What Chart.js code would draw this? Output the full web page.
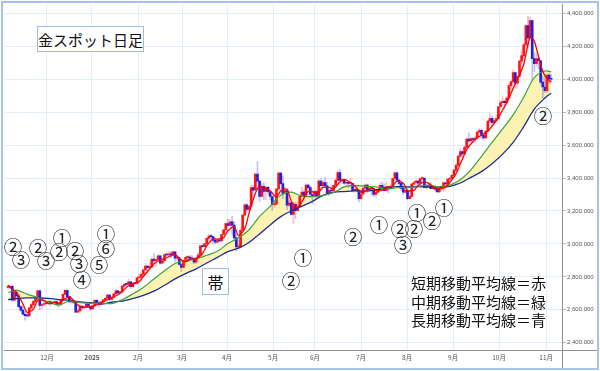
<!DOCTYPE html>
<html lang="ja">
<head>
<meta charset="utf-8">
<title>金スポット日足</title>
<script src="https://cdn.jsdelivr.net/npm/chart.js@4.4.1/dist/chart.umd.min.js"></script>
<style>
  body { margin: 0; background: #fff; }
  #wrap { position: relative; width: 600px; height: 371px; font-family: "Noto Sans CJK JP", sans-serif; color: #111; }
  #wrap canvas { position: absolute; left: 0; top: 0; }
  .box { position: absolute; box-sizing: border-box; border: 1px solid #9dbde6; background: #fff;
         display: flex; align-items: center; justify-content: center; }
  .note { position: absolute; transform: translate(-50%, -50%); font-size: 18.5px; line-height: 1; color: #222; }
  #legend { position: absolute; left: 411px; top: 274px; font-size: 15px; line-height: 18.5px; white-space: nowrap; }
</style>
</head>
<body>
<div id="wrap">
  <canvas id="chart" width="600" height="371"></canvas>
  <div class="box" style="left:37px;top:26px;width:107px;height:26px;font-size:15px;">金スポット日足</div>
  <div class="box" style="left:202px;top:268px;width:27px;height:27px;font-size:16px;">帯</div>
  <div id="legend">短期移動平均線＝赤<br>中期移動平均線＝緑<br>長期移動平均線＝青</div>
</div>
<script>
// Daily candles, one per trading day (index 0 = 2024-11-04)
const firstOpen = 2736;

const closes = [
  // Nov 2024
  2736,2742,2659,2706,2685, 2619,2598,2573,2565,2563, 2612,2631,2651,2670,2715, 2626,2632,2637,2640,2650,
  // Dec
  2640,2643,2650,2632,2633, 2660,2694,2718,2680,2648, 2652,2646,2586,2594,2622, 2612,2617,2634,2621,2606, 2624,
  // Jan 2025
  2658,2640, 2636,2648,2661,2670,2690, 2663,2677,2697,2715,2703, 2708,2744,2755,2754,2770, 2740,2763,2760,2794,2798,
  // Feb
  2815,2842,2866,2856,2861, 2908,2898,2905,2928,2883, 2898,2935,2933,2939,2936, 2952,2914,2916,2875,2857,
  // Mar
  2893,2918,2920,2911,2910, 2889,2916,2934,2988,2984, 3001,3034,3047,3044,3022, 3011,3020,3019,3057,3085, 3124,
  // Apr
  3113,3134,3114,3037, 2982,2982,3083,3175,3237, 3210,3229,3342,3327, 3424,3381,3288,3349,3319, 3344,3317,3288,
  // May
  3239,3241, 3334,3430,3366,3306,3324, 3235,3249,3179,3240,3202, 3230,3289,3315,3294,3357, 3342,3300,3288,3318,3289,
  // Jun
  3381,3353,3373,3352,3310, 3326,3322,3355,3386,3433, 3385,3389,3369,3369,3368, 3368,3323,3332,3327,3274, 3303,
  // Jul
  3338,3357,3326,3337, 3336,3301,3313,3324,3355, 3343,3324,3348,3339,3350, 3397,3432,3387,3368,3337, 3314,3326,3275,3289,
  // Aug
  3363, 3373,3381,3369,3396,3398, 3342,3348,3356,3336,3336, 3332,3316,3348,3339,3371, 3365,3393,3397,3416,3448,
  // Sep
  3477,3533,3560,3546,3586, 3636,3626,3640,3634,3643, 3679,3690,3660,3643,3685, 3746,3763,3736,3749,3760, 3833,3858,
  // Oct
  3866,3857,3886, 3961,3985,4040,3976,4018, 4110,4143,4208,4326,4251, 4356,4125,4095,4126,4112, 3982,3953,3930,4025,4002,
  // Nov
  4000
];

const highs = [
  2750,2750,2750,2711,2709, 2688,2626,2620,2590,2577, 2614,2639,2656,2675,2721, 2721,2637,2650,2648,2666,
  2656,2652,2657,2655,2644, 2667,2698,2726,2721,2682, 2656,2656,2650,2605,2628, 2625,2620,2638,2636,2623, 2630,
  2663,2665, 2650,2655,2664,2675,2697, 2692,2680,2700,2725,2718, 2711,2749,2763,2759,2786, 2772,2766,2769,2799,2817,
  2830,2845,2882,2870,2886, 2911,2942,2910,2935,2933, 2904,2938,2947,2955,2954, 2956,2952,2927,2920,2883,
  2896,2928,2930,2929,2930, 2916,2922,2947,2991,3005, 3005,3038,3057,3058,3047, 3035,3029,3033,3060,3087, 3128,
  3149,3150,3167,3136, 3055,3022,3099,3178,3245, 3245,3231,3357,3357, 3430,3500,3386,3367,3371, 3351,3349,3328,
  3294,3269, 3336,3437,3435,3414,3347, 3328,3265,3251,3252,3252, 3249,3295,3345,3325,3366, 3364,3350,3325,3330,3325,
  3392,3393,3385,3403,3375, 3330,3349,3360,3398,3446, 3452,3400,3391,3372,3375, 3398,3370,3336,3350,3328, 3307,
  3358,3365,3365,3345, 3342,3345,3318,3330,3369, 3375,3366,3377,3352,3361, 3402,3434,3438,3394,3372, 3345,3334,3333,3315,
  3366, 3385,3390,3387,3400,3409, 3404,3358,3375,3374,3348, 3358,3345,3350,3351,3379, 3376,3394,3400,3423,3453,
  3490,3540,3579,3565,3600, 3646,3674,3646,3646,3654, 3685,3703,3697,3663,3688, 3749,3791,3776,3762,3784, 3835,3872,
  3895,3875,3896, 3978,3990,4059,4045,4022, 4116,4179,4218,4330,4380, 4381,4361,4161,4160,4147, 4116,4019,4031,4030,4036,
  4030
];

const lows = [
  2725,2728,2652,2652,2677, 2615,2590,2572,2537,2555, 2562,2605,2625,2643,2662, 2603,2605,2626,2630,2638,
  2622,2632,2637,2625,2614, 2627,2656,2690,2677,2643, 2641,2637,2583,2583,2584, 2603,2610,2615,2615,2597, 2603,
  2622,2635, 2615,2630,2645,2656,2666, 2656,2660,2670,2693,2697, 2698,2704,2738,2742,2750, 2730,2737,2750,2757,2793,
  2773,2812,2840,2834,2851, 2859,2880,2864,2903,2877, 2880,2892,2922,2925,2919, 2930,2890,2900,2873,2832,
  2858,2883,2894,2897,2896, 2880,2881,2906,2932,2978, 2982,2996,3019,3024,3000, 3001,3006,3012,3015,3055, 3076,
  3100,3105,3054,3016, 2957,2970,2975,3077,3170, 3194,3205,3229,3284, 3325,3367,3260,3287,3269, 3268,3300,3268,
  3202,3222, 3240,3324,3360,3274,3306, 3207,3228,3176,3121,3154, 3205,3220,3285,3278,3287, 3334,3284,3245,3271,3272,
  3280,3340,3345,3343,3300, 3293,3312,3320,3340,3380, 3383,3368,3362,3346,3342, 3346,3315,3312,3318,3255, 3267,
  3298,3334,3311,3322, 3296,3287,3283,3309,3319, 3340,3320,3319,3310,3332, 3345,3383,3381,3351,3325, 3301,3308,3268,3275,
  3281, 3347,3353,3358,3364,3380, 3340,3331,3347,3334,3331, 3323,3315,3311,3322,3321, 3358,3351,3377,3385,3406,
  3436,3475,3525,3510,3543, 3585,3613,3620,3618,3615, 3637,3674,3642,3628,3640, 3680,3738,3720,3721,3742, 3755,3818,
  3842,3821,3844, 3882,3941,3981,3945,3945, 4010,4095,4126,4200,4189, 4245,4004,4048,4081,4062, 3970,3886,3920,3920,3976,
  3990
];

// Moving averages (trading-day index -> price)
const shortX = [0,2,4,7,9,12,14,17,19,22,24,27,29,32,34,37,39,42,44,47,49,52,54,57,59,62,64,67,69,72,74,77,79,
  82,84,87,89,92,94,97,99,102,104,107,109,112,114,117,119,122,124,127,129,132,134,137,139,142,144,147,149,152,154,
  157,159,162,164,167,169,172,174,177,179,182,184,187,189,192,194,197,199,202,204,207,209,212,214,217,219,222,224,
  227,229,232,234,237,239,242,244,247,249,252,254,257];
const shortMA = [2750,2723,2706,2636,2584,2604,2656,2656,2637,2645,2640,2667,2680,2642,2620,2616,2618,2630,2641,2661,
  2672,2691,2713,2746,2756,2771,2802,2848,2878,2904,2910,2928,2935,2903,2892,2910,2909,2942,2988,3030,
  3029,3038,3080,3104,3050,3092,3187,3306,3352,3336,3323,3284,3322,3332,3259,3220,3255,3319,3316,3315,
  3343,3343,3333,3376,3392,3373,3352,3312,3320,3339,3323,3327,3339,3352,3381,3368,3324,3325,3355,3377,
  3368,3342,3334,3348,3373,3426,3487,3572,3607,3644,3661,3685,3715,3768,3813,3886,3946,4026,4091,4257,
  4231,4088,4021,3982];

const maX = [0,4,9,14,19,24,29,34,39,44,49,54,59,64,69,74,79,84,89,94,99,104,109,114,119,124,129,134,139,144,
  149,154,159,164,169,174,179,184,189,194,199,204,209,214,219,224,229,234,239,244,249,254,257];
const midMA = [2705,2719,2695,2675,2646,2629,2653,2644,2639,2640,2638,2661,2696,2736,2787,2837,2881,2904,2911,2931,
  2955,3002,3037,3086,3167,3228,3296,3314,3290,3288,3293,3312,3346,3355,3349,3347,3333,3341,3342,3350,
  3357,3345,3357,3390,3450,3532,3617,3699,3784,3891,4010,4050,4045];
const longMA = [2662,2668,2672,2672,2670,2662,2658,2648,2643,2634,2646,2653,2668,2688,2713,2749,2788,2820,2849,2884,
  2918,2953,2974,3009,3061,3115,3166,3200,3229,3258,3295,3313,3318,3322,3321,3329,3340,3348,3346,3348,
  3345,3343,3350,3370,3404,3439,3487,3545,3617,3712,3819,3886,3915];

// Axis ticks
const monthTicks = [18.4, 39.7, 61.5, 82.3, 103.6, 125.4, 145.2, 167, 188.8, 210.6, 232.3, 254.6];
const monthLabels = ['12月', '2025', '2月', '3月', '4月', '5月', '6月', '7月', '8月', '9月', '10月', '11月'];
const yTicks = [2400, 2600, 2800, 3000, 3200, 3400, 3600, 3800, 4000, 4200, 4400];

// Circled-number notes placed on the chart
const notes = [
  ['②', 13, 246], ['③', 21, 259], ['②', 38, 247], ['③', 46, 260], ['①', 62, 237], ['②', 59, 251],
  ['②', 75, 250], ['③', 79, 263], ['④', 82, 279], ['①', 106, 233], ['⑥', 106, 248], ['⑤', 99, 264],
  ['①', 303, 257], ['②', 291, 280], ['②', 353, 236], ['①', 379, 224], ['①', 417, 212], ['②', 400, 228],
  ['②', 414, 228], ['③', 403, 244], ['②', 432, 220], ['①', 444, 207], ['②', 543, 115]
];

const wrap = document.getElementById('wrap');
notes.forEach(([t, x, y]) => {
  const el = document.createElement('div');
  el.className = 'note';
  el.textContent = t;
  el.style.left = x + 'px';
  el.style.top = y + 'px';
  wrap.appendChild(el);
});

function openOf(i) {
  return i ? closes[i - 1] : firstOpen;
}
function isUp(i) {
  return closes[i] >= openOf(i);
}

const bodies = closes.map((c, i) => ({ x: i, y: [openOf(i), c] }));
const wicks = closes.map((c, i) => ({ x: i, y: [lows[i], highs[i]] }));
const shortLine = shortX.map((x, i) => ({ x, y: shortMA[i] }));
const midLine = maX.map((x, i) => ({ x, y: midMA[i] }));
const longLine = maX.map((x, i) => ({ x, y: longMA[i] }));

const framePlugin = {
  id: 'frame',
  afterDraw(chart) {
    const c = chart.ctx;
    const a = chart.chartArea;
    c.save();
    c.strokeStyle = '#8f8f8f';
    c.lineWidth = 1;
    c.beginPath();
    c.moveTo(a.right, Math.round(a.bottom) + 0.5);
    c.lineTo(597, Math.round(a.bottom) + 0.5);
    c.moveTo(Math.round(a.right) + 0.5, a.bottom);
    c.lineTo(Math.round(a.right) + 0.5, 369);
    c.stroke();
    c.strokeStyle = '#a6c4ea';
    c.lineWidth = 2;
    c.strokeRect(2, 2, 596, 367);
    c.restore();
  }
};

new Chart(document.getElementById('chart'), {
  type: 'bar',
  data: {
    datasets: [
      {
        type: 'bar', label: 'wick', data: wicks, barThickness: 1, grouped: false, order: 3,
        backgroundColor: c => isUp(c.dataIndex) ? 'rgba(255,70,110,0.35)' : 'rgba(80,70,235,0.35)'
      },
      {
        type: 'bar', label: 'body', data: bodies, barThickness: 2, minBarLength: 1, grouped: false, order: 2,
        backgroundColor: c => isUp(c.dataIndex) ? '#ff1414' : '#2020e6'
      },
      {
        type: 'line', label: '短期', data: shortLine, borderColor: '#ff0000', borderWidth: 1.3,
        pointRadius: 0, tension: 0.25, order: 0
      },
      {
        type: 'line', label: '中期', data: midLine, borderColor: '#3ca43c', borderWidth: 1.2,
        pointRadius: 0, tension: 0.35, order: 1,
        fill: { target: '+1', above: '#fcf2b4', below: 'rgba(0,0,0,0)' }
      },
      {
        type: 'line', label: '長期', data: longLine, borderColor: '#1b2d94', borderWidth: 1.3,
        pointRadius: 0, tension: 0.35, order: 1
      }
    ]
  },
  options: {
    responsive: false,
    animation: false,
    devicePixelRatio: 1,
    layout: { padding: { left: 4, top: 4, right: 0, bottom: 0 } },
    plugins: {
      legend: { display: false },
      tooltip: { enabled: false },
      filler: { drawTime: 'beforeDatasetsDraw' }
    },
    scales: {
      x: {
        type: 'linear', min: -1.94, max: 262.1, offset: false,
        afterBuildTicks: s => { s.ticks = monthTicks.map(v => ({ value: v })); },
        afterFit: s => { s.height = 21; },
        grid: { color: '#e3edf7', drawTicks: false, offset: false },
        border: { color: '#8f8f8f' },
        ticks: {
          padding: 4, autoSkip: false, maxRotation: 0, color: '#555',
          font: c => ({ size: 6.5, family: 'Noto Sans CJK JP', weight: c.index === 1 ? 'bold' : 'normal' }),
          callback: (v, i) => monthLabels[i]
        }
      },
      y: {
        position: 'right', min: 2356, max: 4453,
        afterBuildTicks: s => { s.ticks = yTicks.map(v => ({ value: v })); },
        afterFit: s => { s.width = 38; },
        grid: { color: '#e3edf7', tickLength: 4, tickColor: '#bbb' },
        border: { color: '#8f8f8f' },
        ticks: {
          padding: 1, color: '#555', font: { size: 6, family: 'Liberation Sans' },
          callback: v => v.toLocaleString('en-US', { minimumFractionDigits: 3 })
        }
      }
    }
  },
  plugins: [framePlugin]
});
</script>
</body>
</html>
